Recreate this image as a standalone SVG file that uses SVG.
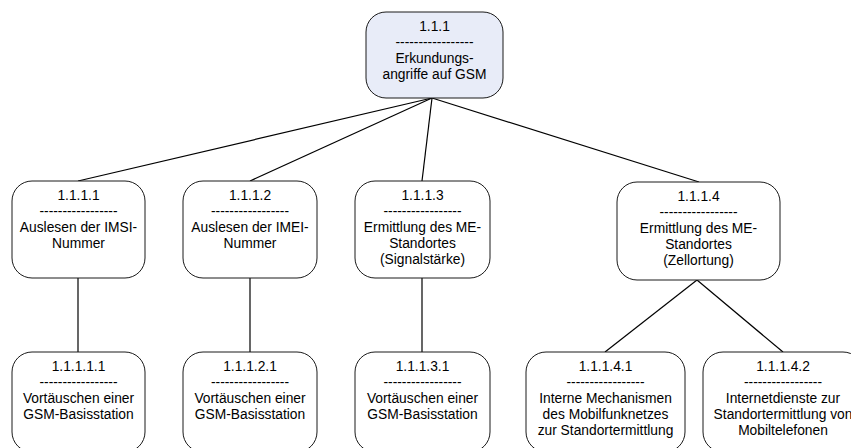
<svg xmlns="http://www.w3.org/2000/svg" width="851" height="448" viewBox="0 0 851 448">
  <style>
    .box { fill: #ffffff; stroke: #1a1a1a; stroke-width: 1; }
    .root { fill: #e8ecf8; }
    .lbl { font-family: "Liberation Sans", Arial, sans-serif; font-size: 13.8px; fill: #000000; text-anchor: middle; }
    .conn { stroke: #000000; stroke-width: 1.2; fill: none; }
  </style>
  <rect width="851" height="448" fill="#ffffff"/>

  <g id="connectors">
    <line class="conn" x1="432" y1="98" x2="78" y2="181"/>
    <line class="conn" x1="432" y1="98" x2="250" y2="181"/>
    <line class="conn" x1="432" y1="98" x2="422" y2="181"/>
    <line class="conn" x1="432" y1="98" x2="699" y2="182"/>
    <line class="conn" x1="78" y1="278" x2="78" y2="352"/>
    <line class="conn" x1="250" y1="278" x2="250" y2="352"/>
    <line class="conn" x1="422" y1="278" x2="422" y2="352"/>
    <line class="conn" x1="697" y1="280" x2="605" y2="352"/>
    <line class="conn" x1="697" y1="280" x2="783" y2="352"/>
  </g>

  <g id="n111">
    <rect class="box root" x="366" y="12" width="137" height="86" rx="20"/>
    <text class="lbl" x="434.5" y="31">1.1.1</text>
    <text class="lbl" x="434.5" y="47">-----------------</text>
    <text class="lbl" x="434.5" y="63">Erkundungs-</text>
    <text class="lbl" x="434.5" y="79">angriffe auf GSM</text>
  </g>

  <g id="n1111">
    <rect class="box" x="12" y="181" width="133" height="97" rx="20"/>
    <text class="lbl" x="78.5" y="200">1.1.1.1</text>
    <text class="lbl" x="78.5" y="216">-----------------</text>
    <text class="lbl" x="78.5" y="232">Auslesen der IMSI-</text>
    <text class="lbl" x="78.5" y="248">Nummer</text>
  </g>

  <g id="n1112">
    <rect class="box" x="183" y="181" width="134" height="97" rx="20"/>
    <text class="lbl" x="250" y="200">1.1.1.2</text>
    <text class="lbl" x="250" y="216">-----------------</text>
    <text class="lbl" x="250" y="232">Auslesen der IMEI-</text>
    <text class="lbl" x="250" y="248">Nummer</text>
  </g>

  <g id="n1113">
    <rect class="box" x="355" y="181" width="135" height="97" rx="20"/>
    <text class="lbl" x="422.5" y="200">1.1.1.3</text>
    <text class="lbl" x="422.5" y="216">-----------------</text>
    <text class="lbl" x="422.5" y="232">Ermittlung des ME-</text>
    <text class="lbl" x="422.5" y="248">Standortes</text>
    <text class="lbl" x="422.5" y="264">(Signalstärke)</text>
  </g>

  <g id="n1114">
    <rect class="box" x="617" y="182" width="163" height="98" rx="20"/>
    <text class="lbl" x="698.5" y="201">1.1.1.4</text>
    <text class="lbl" x="698.5" y="217">-----------------</text>
    <text class="lbl" x="698.5" y="233">Ermittlung des ME-</text>
    <text class="lbl" x="698.5" y="249">Standortes</text>
    <text class="lbl" x="698.5" y="265">(Zellortung)</text>
  </g>

  <g id="n11111">
    <rect class="box" x="12" y="352" width="133" height="100" rx="20"/>
    <text class="lbl" x="78.5" y="371">1.1.1.1.1</text>
    <text class="lbl" x="78.5" y="387">-----------------</text>
    <text class="lbl" x="78.5" y="403">Vortäuschen einer</text>
    <text class="lbl" x="78.5" y="419">GSM-Basisstation</text>
  </g>

  <g id="n11121">
    <rect class="box" x="183" y="352" width="134" height="100" rx="20"/>
    <text class="lbl" x="250" y="371">1.1.1.2.1</text>
    <text class="lbl" x="250" y="387">-----------------</text>
    <text class="lbl" x="250" y="403">Vortäuschen einer</text>
    <text class="lbl" x="250" y="419">GSM-Basisstation</text>
  </g>

  <g id="n11131">
    <rect class="box" x="355" y="352" width="135" height="100" rx="20"/>
    <text class="lbl" x="422.5" y="371">1.1.1.3.1</text>
    <text class="lbl" x="422.5" y="387">-----------------</text>
    <text class="lbl" x="422.5" y="403">Vortäuschen einer</text>
    <text class="lbl" x="422.5" y="419">GSM-Basisstation</text>
  </g>

  <g id="n11141">
    <rect class="box" x="526" y="352" width="159" height="100" rx="20"/>
    <text class="lbl" x="605.5" y="371">1.1.1.4.1</text>
    <text class="lbl" x="605.5" y="387">-----------------</text>
    <text class="lbl" x="605.5" y="403">Interne Mechanismen</text>
    <text class="lbl" x="605.5" y="419">des Mobilfunknetzes</text>
    <text class="lbl" x="605.5" y="435">zur Standortermittlung</text>
  </g>

  <g id="n11142">
    <rect class="box" x="703" y="352" width="160" height="100" rx="20"/>
    <text class="lbl" x="783" y="371">1.1.1.4.2</text>
    <text class="lbl" x="783" y="387">-----------------</text>
    <text class="lbl" x="783" y="403">Internetdienste zur</text>
    <text class="lbl" x="783" y="419">Standortermittlung von</text>
    <text class="lbl" x="783" y="435">Mobiltelefonen</text>
  </g>
</svg>
